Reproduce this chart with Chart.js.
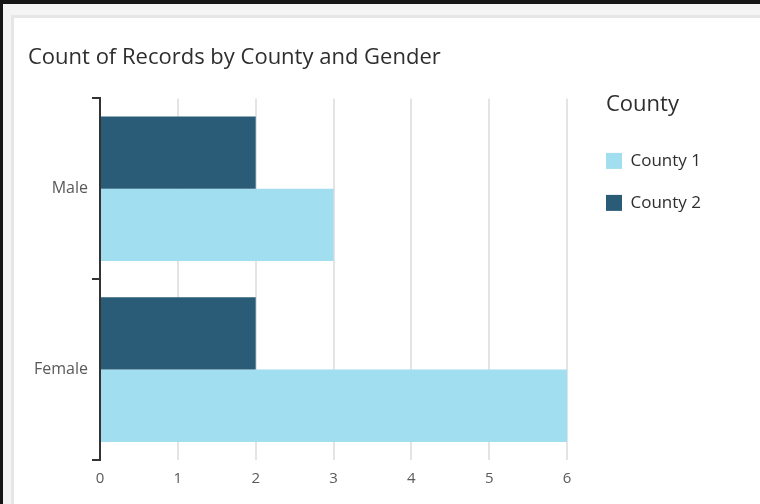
<!DOCTYPE html>
<html>
<head>
<meta charset="utf-8">
<script src="https://cdn.jsdelivr.net/npm/chart.js@4/dist/chart.umd.min.js"></script>
<style>
  html, body { margin: 0; padding: 0; }
  body { width: 760px; height: 504px; background: #161616; position: relative; overflow: hidden; }
  .frame { position: absolute; left: 3px; top: 4px; right: 0; bottom: 0; background: #f4f4f4; }
  .card { position: absolute; left: 8px; top: 11px; right: 0; bottom: 0; background: #fff;
          border-left: 3px solid #e6e6e6; border-top: 3px solid #e6e6e6; }
  .chart-box { position: absolute; left: 0; top: 1px; width: 746px; height: 485px; }
</style>
</head>
<body>
<div class="frame">
  <div class="card">
    <div class="chart-box"><canvas id="genderChart"></canvas></div>
  </div>
</div>
<script>
var genders = ["Male", "Female"];
var county1 = [3, 6];
var county2 = [2, 2];
var seriesNames = ["County 1", "County 2"];
var xTickValues = [0, 1, 2, 3, 4, 5, 6];

var county1Color = "#a0def0";
var county2Color = "#2a5c78";
var font = "'Open Sans', 'Noto Sans', sans-serif";

new Chart("genderChart", {
  type: "bar",
  data: {
    labels: genders,
    // County 2 sits on top inside each group, legend is reversed below
    datasets: [
      { label: seriesNames[1], data: county2, backgroundColor: county2Color, borderWidth: 0 },
      { label: seriesNames[0], data: county1, backgroundColor: county1Color, borderWidth: 0 }
    ]
  },
  options: {
    indexAxis: "y",
    responsive: true,
    maintainAspectRatio: false,
    animation: false,
    categoryPercentage: 0.8,
    barPercentage: 1.0,
    layout: { padding: { left: 14, top: 0, right: 49, bottom: 6 } },
    scales: {
      x: {
        min: 0,
        max: 6.5,
        ticks: { stepSize: 1, color: "#5a5a5a", padding: 10, font: { family: font, size: 15 } },
        afterBuildTicks: function(axis) {
          axis.ticks = xTickValues.map(function(v) { return { value: v }; });
        },
        grid: { color: "#e4e4e4", lineWidth: 2, drawTicks: false },
        border: { display: false }
      },
      y: {
        ticks: { color: "#5a5a5a", padding: 4, font: { family: font, size: 16 } },
        grid: { drawOnChartArea: false, drawTicks: true, tickLength: 8, color: "#333", lineWidth: 2, offset: true },
        border: { display: true, color: "#333", width: 2 },
        afterFit: function(scale) { scale.width = 72; }
      }
    },
    plugins: {
      title: {
        display: true,
        text: "Count of Records by County and Gender",
        align: "start",
        color: "#2e2e2e",
        font: { family: font, size: 22, weight: "normal" },
        padding: { top: 26, bottom: 27 }
      },
      legend: {
        position: "right",
        align: "start",
        reverse: true,
        title: {
          display: true,
          text: "County",
          position: "start",
          color: "#2e2e2e",
          font: { family: font, size: 22 },
          padding: { top: 75, bottom: 32 }
        },
        labels: {
          boxWidth: 16,
          boxHeight: 16,
          padding: 0,
          color: "#2e2e2e",
          font: { family: font, size: 17, lineHeight: 2.47 },
          generateLabels: function(chart) {
            return Chart.defaults.plugins.legend.labels.generateLabels(chart).map(function(item) {
              item.text = [item.text];
              return item;
            });
          }
        }
      },
      tooltip: { enabled: false }
    }
  }
});
</script>
</body>
</html>
